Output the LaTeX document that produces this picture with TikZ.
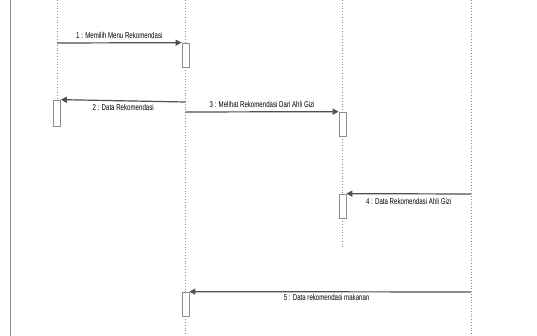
\documentclass[tikz,border=0pt]{standalone}
\usepackage{fontspec}
\setmainfont{Liberation Sans}
\usetikzlibrary{arrows.meta, positioning, calc}
\definecolor{LineGrey}{HTML}{505050}
\definecolor{LifeGrey}{HTML}{8c8c8c}

\tikzset{
    lifeline/.style={LifeGrey, line width=0.8pt, dotted},
    actbox/.style={draw=LifeGrey, fill=white, line width=0.7pt, minimum width=7pt, minimum height=24pt, inner sep=0pt},
    msg/.style={LineGrey, line width=1.2pt, -{Triangle[length=6pt, width=6pt]}},
    msglabel/.style={black, font=\fontsize{8.5}{8.5}\selectfont, xscale=0.72, inner sep=0pt}
}

\begin{document}
\begin{tikzpicture}[x=1pt, y=-1pt]
    \useasboundingbox (0, 0) rectangle (537, 336);
    \fill[white] (0, 0) rectangle (537, 336);

    % Frame edge
    \draw[LifeGrey, line width=1pt] (10, 0) -- (10, 336);

    % Activations
    \node[actbox] (a1) at (185.5, 55) {};
    \node[actbox, minimum height=26pt] (a2) at (57, 113) {};
    \node[actbox] (a3) at (342.5, 124) {};
    \node[actbox] (a4) at (342.5, 206) {};
    \node[actbox] (a5) at (185.5, 304) {};

    % Lifelines
    \coordinate (l1) at (57, 0);
    \coordinate (l2) at (185.5, 0);
    \coordinate (l3) at (342.5, 0);
    \coordinate (l4) at (471, 0);
    \coordinate (l2end) at (185.5, 336);
    \coordinate (l3end) at (342.5, 247);
    \coordinate (l4end) at (471, 336);
    \draw[lifeline] (l1) -- (a2.north);
    \draw[lifeline] (l2) -- (a1.north);
    \draw[lifeline] (a1.south) -- (a5.north);
    \draw[lifeline] (a5.south) -- (l2end);
    \draw[lifeline] (l3) -- (a3.north);
    \draw[lifeline] (a3.south) -- (a4.north);
    \draw[lifeline] (a4.south) -- (l3end);
    \draw[lifeline] (l4) -- (l4end);

    % Messages
    \coordinate (m1) at (57, 43);
    \coordinate (m2) at (185.5, 102);
    \coordinate (m3) at (185.5, 112);
    \coordinate (m4) at (471, 194);
    \coordinate (m5) at (471, 292);
    \draw[msg] (m1) -- node[msglabel, above=4pt] (t1) {1 : Memilih Menu Rekomendasi} (a1.north west);
    \draw[msg] (m2) -- node[msglabel, below=3pt] (t2) {2 : Data Rekomendasi} (a2.north east);
    \draw[msg] (m3) -- node[msglabel, above=4pt] (t3) {3 : Melihat Rekomendasi Dari Ahli Gizi} (a3.north west);
    \draw[msg] (m4) -- node[msglabel, below=4pt] (t4) {4 : Data Rekomendasi Ahli Gizi} (a4.north east);
    \draw[msg] (m5) -- node[msglabel, below=2pt, xshift=-5pt] (t5) {5 : Data rekomendasi makanan} (a5.north east);
\end{tikzpicture}
\end{document}
